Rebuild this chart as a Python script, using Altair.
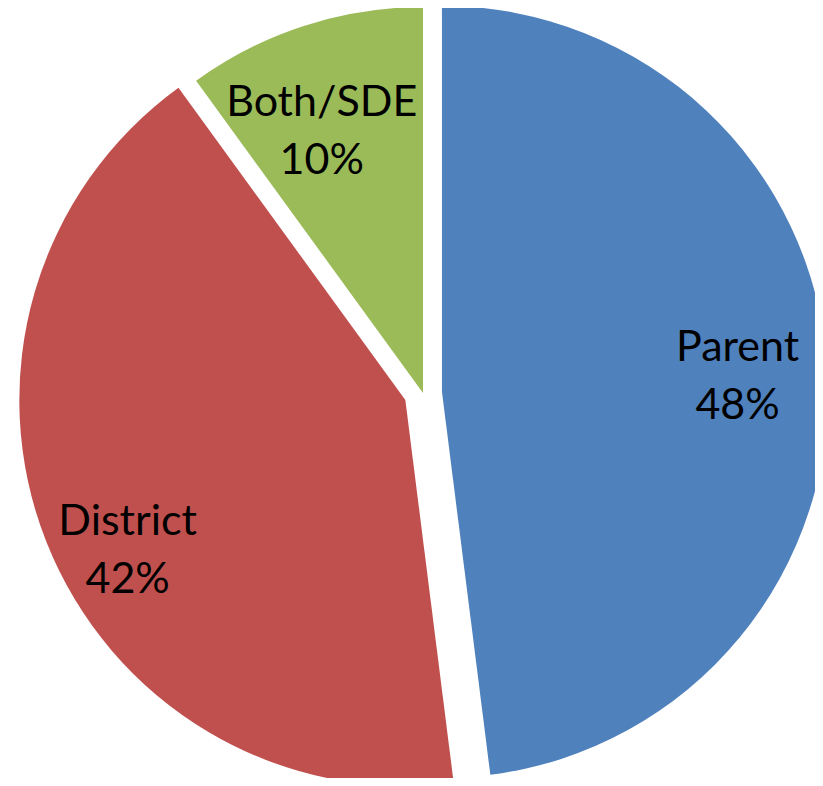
import math
import altair as alt
import pandas as pd

# ---- data ----
categories = ["Parent", "District", "Both/SDE"]
percents = [48, 42, 10]

# ---- style ----
colors = ["#4F81BD", "#C0504D", "#9BBB59"]
explode_px = {"Parent": 19, "District": 19, "Both/SDE": 0}
label_radius = {"Parent": 296, "District": 316, "Both/SDE": 280}
label_nudge_deg = {"Parent": 0.7, "District": -6.9, "Both/SDE": -3.2}

CX, CY, R = 415, 385, 386
W, H = 807, 770
LINE_H = 58

df = pd.DataFrame({
    "cat": categories,
    "pct": percents,
    "order": list(range(len(categories))),
})
df["explode"] = df["cat"].map(explode_px)
df["lr"] = df["cat"].map(label_radius)
df["nudge"] = df["cat"].map(label_nudge_deg)

base = alt.Chart(df).transform_joinaggregate(
    total="sum(pct)"
).transform_window(
    cum="sum(pct)", sort=[alt.SortField("order")], frame=[None, 0]
).transform_calculate(
    start="datum.cum - datum.pct",
    end="datum.cum",
    mid="(datum.cum - datum.pct / 2) / datum.total * 2 * PI",
).transform_calculate(
    cx=f"{CX} + datum.explode * sin(datum.mid)",
    cy=f"{CY} - datum.explode * cos(datum.mid)",
    lx=f"{CX} + datum.explode * sin(datum.mid) + datum.lr * sin(datum.mid + datum.nudge * PI / 180)",
    ly=f"{CY} - datum.explode * cos(datum.mid) - datum.lr * cos(datum.mid + datum.nudge * PI / 180)",
    label="datum.cat + '\\n' + datum.pct + '%'",
)

arcs = base.mark_arc(radius=R, strokeWidth=0).encode(
    theta=alt.Theta("start:Q", scale=alt.Scale(domain=[0, 100], range=[0, 2 * math.pi])),
    theta2="end:Q",
    x=alt.X("cx:Q", scale=None),
    y=alt.Y("cy:Q", scale=None),
    color=alt.Color("cat:N", scale=alt.Scale(domain=categories, range=colors), legend=None),
)

labels = base.mark_text(
    font="Lato", fontSize=43, lineBreak="\n", lineHeight=LINE_H,
    align="center", baseline="middle", color="black", dy=-LINE_H / 2,
).encode(
    x=alt.X("lx:Q", scale=None),
    y=alt.Y("ly:Q", scale=None),
    text="label:N",
)

chart = alt.layer(arcs, labels).properties(
    width=W, height=H,
    autosize=alt.AutoSizeParams(type="none"),
    padding=0,
).configure_view(stroke=None)

chart.save("out.html", embed_options={"renderer": "svg", "actions": False})
